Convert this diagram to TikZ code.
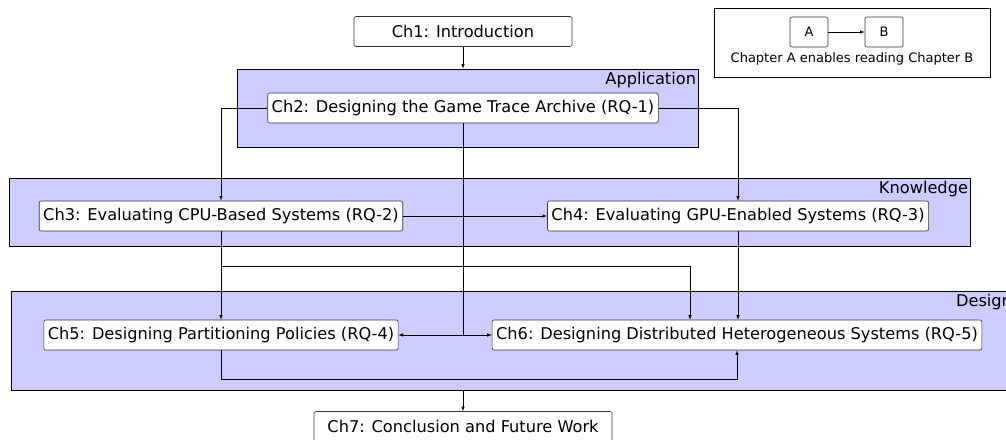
\documentclass[tikz,border=0pt]{standalone}
\usepackage{fontspec}
\setmainfont{DejaVu Sans}
\usepackage{tikz}
\usetikzlibrary{arrows}
\definecolor{groupblue}{RGB}{204,204,255}
\tikzset{
	chapter/.style={draw=black!80,fill=white,rounded corners=2pt,inner xsep=4pt,minimum height=30pt,font=\fontsize{16.2}{19}\selectfont},
	group/.style={draw=black,fill=groupblue,inner sep=0pt},
	grouplabel/.style={anchor=north east,inner xsep=2pt,inner ysep=3.5pt,font=\fontsize{16.2}{19}\selectfont},
	legendbox/.style={draw=black!80,fill=white,rounded corners=2pt,minimum width=38pt,minimum height=30pt,font=\fontsize{13}{15}\selectfont}
}

\begin{document}
\begin{tikzpicture}[>=latex,x=1pt,y=-1pt,line width=0.6pt]
	\useasboundingbox (0,0) rectangle (1006,439);
	% groups
	\node [group,minimum width=461pt,minimum height=78pt] (app) at (467.5,108) {};
	\node [grouplabel] (applbl) at (app.north east) {Application};
	\node [group,minimum width=961pt,minimum height=68pt] (know) at (489.5,212) {};
	\node [grouplabel] (knowlbl) at (know.north east) {Knowledge};
	\node [group,minimum width=1003pt,minimum height=99pt] (design) at (512.5,340.5) {};
	\node [grouplabel] (designlbl) at (design.north east) {Design};
	% legend
	\node [draw=black,minimum width=276pt,minimum height=69pt] (legend) at (852,42.5) {};
	\node [legendbox] (a) at (809,32) {A};
	\node [legendbox] (b) at (884,32) {B};
	\node [font=\fontsize{13}{15}\selectfont] (legendtxt) at (852,59) {Chapter A enables reading Chapter B};
	\draw [->] (a) -- (b);
	% chapters
	\node [chapter,minimum width=218pt] (ch1) at (463,31.5) {Ch1: Introduction};
	\node [chapter] (ch2) at (463,108) {Ch2: Designing the Game Trace Archive (RQ-1)};
	\node [chapter] (ch3) at (221,216) {Ch3: Evaluating CPU-Based Systems (RQ-2)};
	\node [chapter] (ch4) at (738,216) {Ch4: Evaluating GPU-Enabled Systems (RQ-3)};
	\node [chapter] (ch5) at (221,335) {Ch5: Designing Partitioning Policies (RQ-4)};
	\node [chapter] (ch6) at (737,335) {Ch6: Designing Distributed Heterogeneous Systems (RQ-5)};
	\node [chapter,minimum width=298pt] (ch7) at (463,426.5) {Ch7: Conclusion and Future Work};
	\coordinate (split) at (690,266);
	% reading order
	\draw [->] (ch1.south) -- (ch1.south |- app.north);
	\draw [->] (ch2.west) -| (ch3.north);
	\draw [->] (ch2.east) -| (ch4.north);
	\draw [->] (ch2.south) |- (ch5.east);
	\draw [->] (ch2.south) |- (ch6.west);
	\draw [->] (ch3.east) -- (ch4.west);
	\draw [->] (ch3.south) -- (ch5.north);
	\draw [->] (ch3.south) |- (split) -- (split |- ch6.north);
	\draw [->] (ch4.south) -- (ch4.south |- ch6.north);
	\draw [->] (ch5.south) -- ++(0,29) -| (ch6.south);
	\draw [->] (ch7.north |- design.south) -- (ch7.north);
\end{tikzpicture}
\end{document}
